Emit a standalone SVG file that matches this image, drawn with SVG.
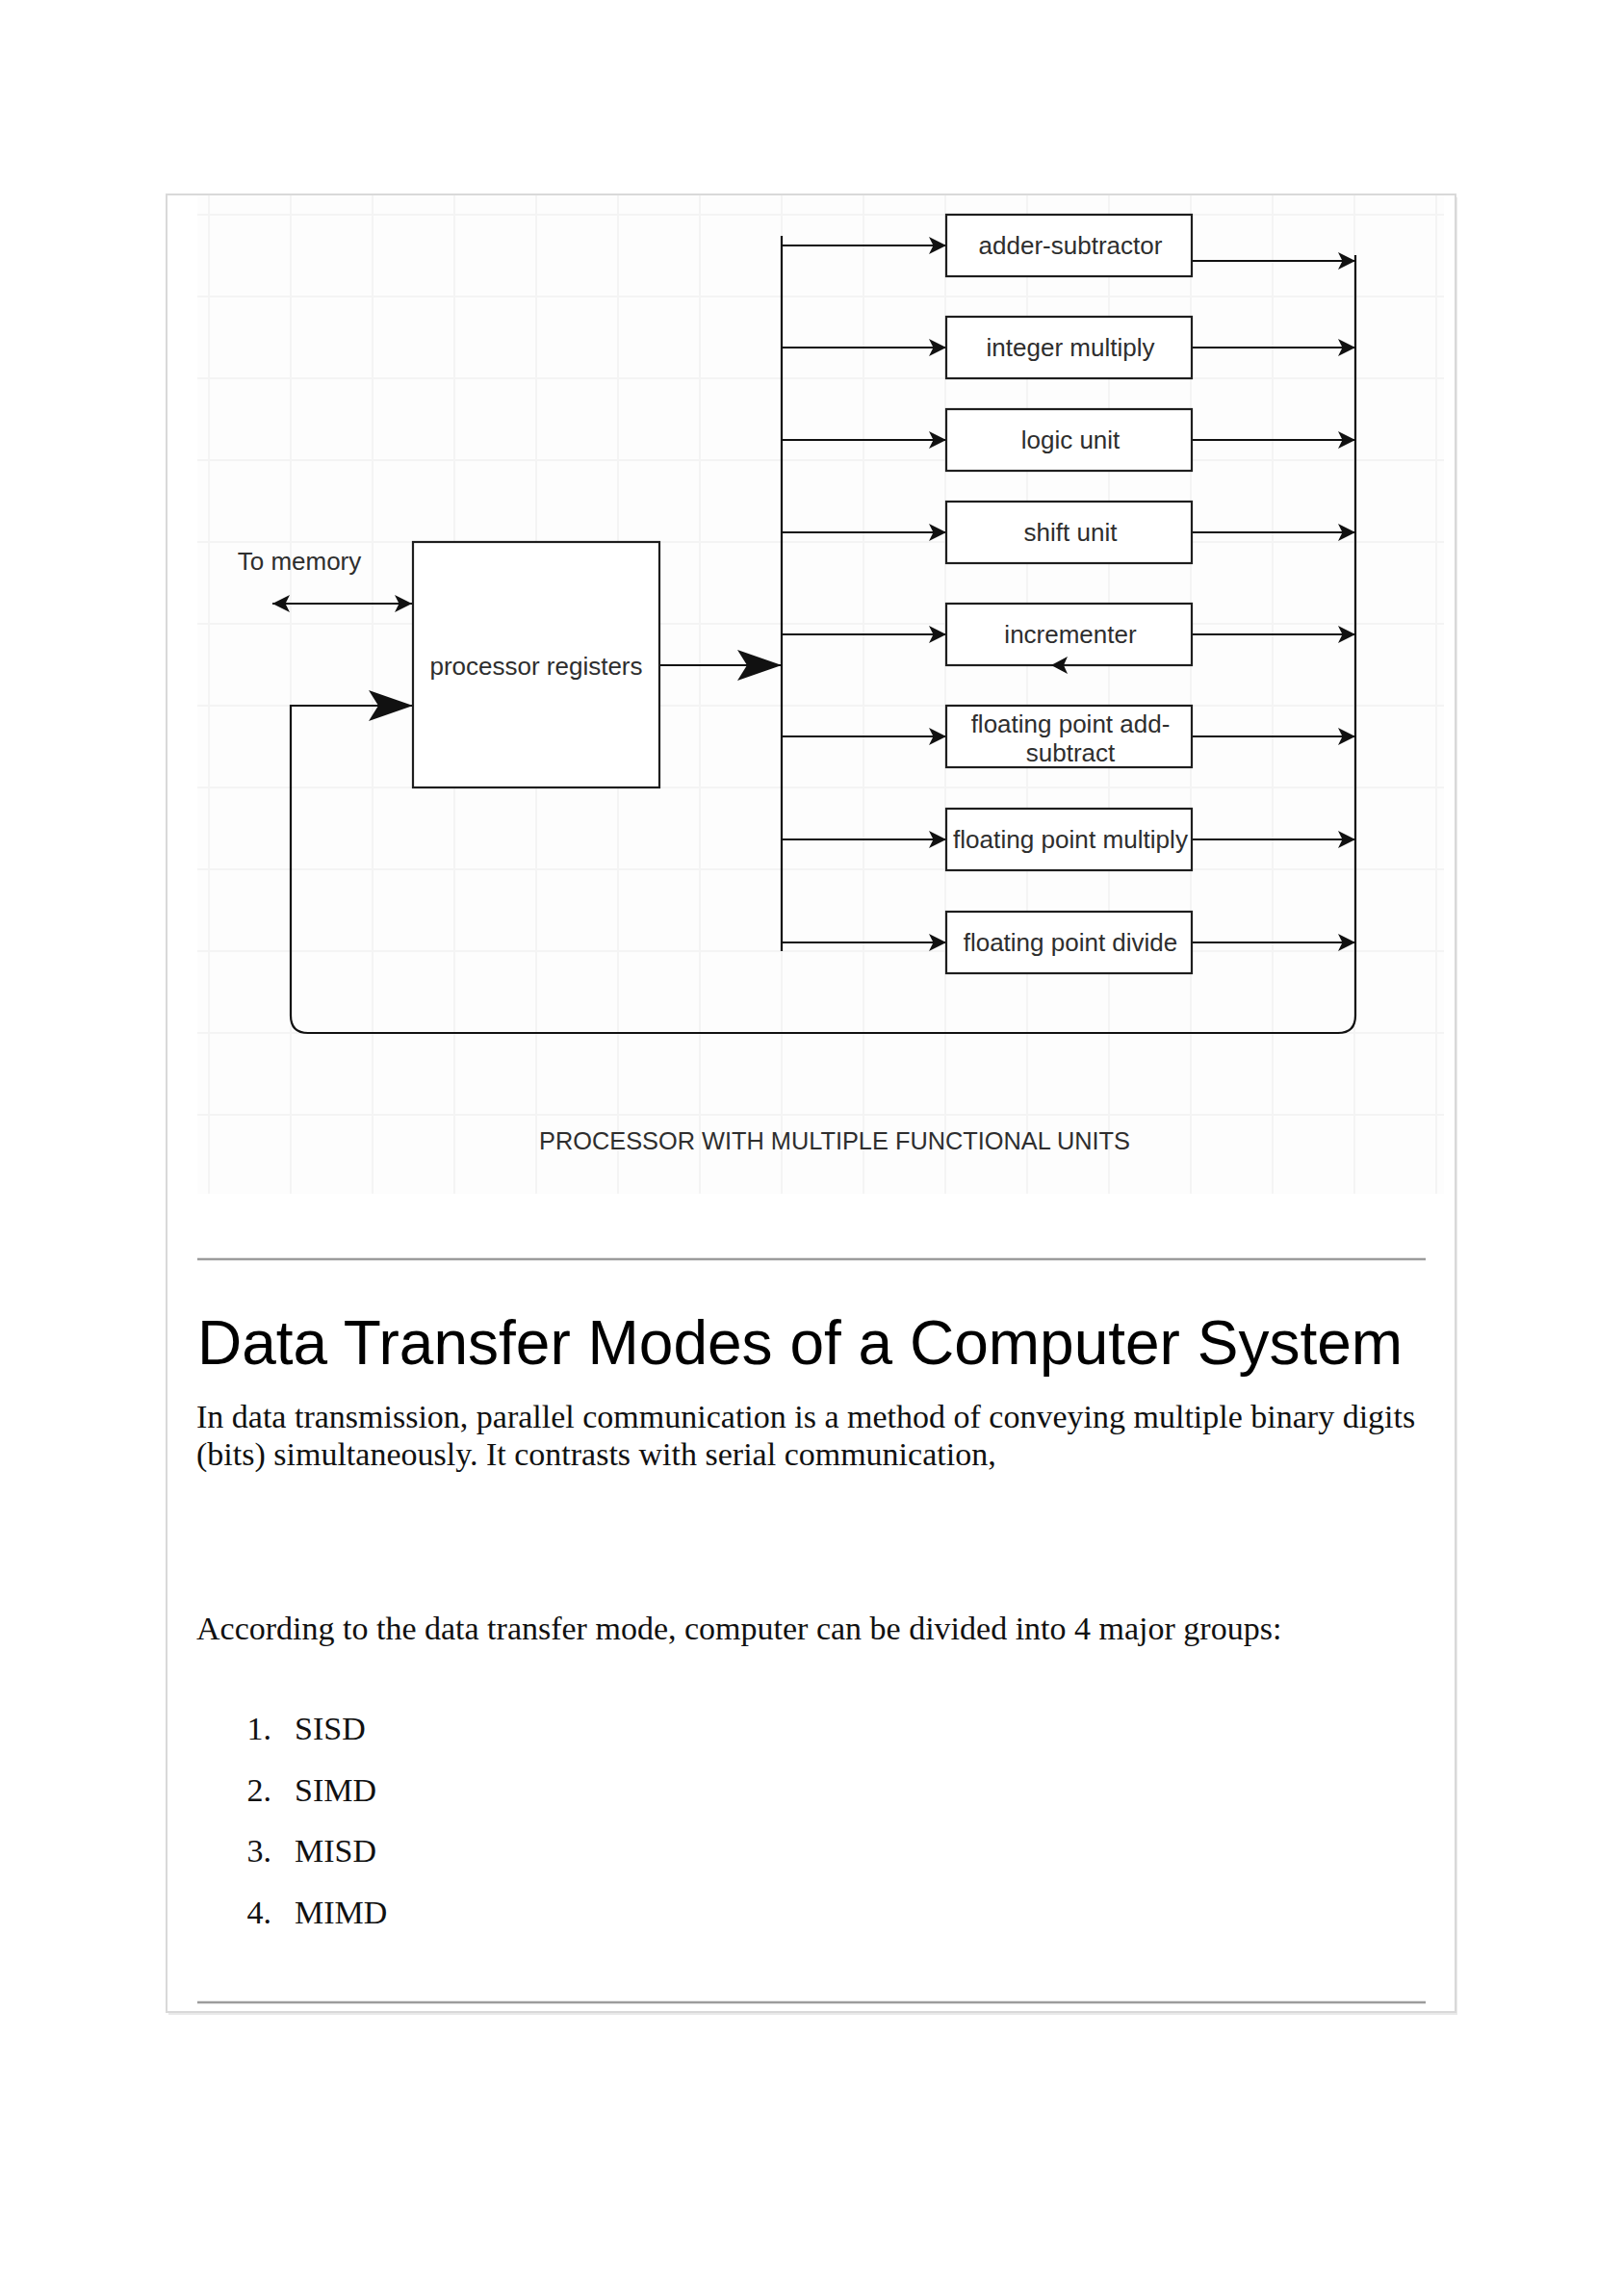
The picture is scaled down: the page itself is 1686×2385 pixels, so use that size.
<svg xmlns="http://www.w3.org/2000/svg" width="1686" height="2385" viewBox="0 0 1686 2385">
  <style>
    .box { fill: #ffffff; stroke: #1e1e1e; stroke-width: 2.2; }
    .lbl { font-family: "Liberation Sans", Arial, sans-serif; font-size: 26px; fill: #2e2e2e; text-anchor: middle; }
    .wire { fill: none; stroke: #111111; stroke-width: 2.2; }
    .grid line { stroke: #f4f4f4; stroke-width: 2; }
    .serif { font-family: "Liberation Serif", "Times New Roman", serif; font-size: 34px; fill: #111111; }
    .rule { stroke: #9c9c9c; stroke-width: 2.5; }
  </style>
  <defs>
    <marker id="arr" markerUnits="userSpaceOnUse" markerWidth="22" markerHeight="22" refX="20" refY="11" orient="auto-start-reverse">
      <path d="M2,2 L20,11 L2,20 L6.5,11 Z" fill="#111111"/>
    </marker>
    <marker id="big" markerUnits="userSpaceOnUse" markerWidth="50" markerHeight="36" refX="48" refY="18" orient="auto">
      <path d="M2,2 L48,18 L2,34 L12,18 Z" fill="#111111"/>
    </marker>
  </defs>

  <rect width="1686" height="2385" fill="#ffffff"/>

  <!-- card -->
  <g id="card">
    <rect x="175" y="205" width="1339" height="1888" fill="#e9e9e9"/>
    <rect x="173" y="202" width="1339" height="1888" fill="#ffffff" stroke="#d9d9d9" stroke-width="2"/>
  </g>

  <!-- diagram image area with faint grid -->
  <g id="canvas">
    <rect x="205" y="203" width="1295" height="1037" fill="#fdfdfd"/>
    <g class="grid">
      <line x1="217" y1="203" x2="217" y2="1240"/>
      <line x1="302" y1="203" x2="302" y2="1240"/>
      <line x1="387" y1="203" x2="387" y2="1240"/>
      <line x1="472" y1="203" x2="472" y2="1240"/>
      <line x1="557" y1="203" x2="557" y2="1240"/>
      <line x1="642" y1="203" x2="642" y2="1240"/>
      <line x1="727" y1="203" x2="727" y2="1240"/>
      <line x1="812" y1="203" x2="812" y2="1240"/>
      <line x1="897" y1="203" x2="897" y2="1240"/>
      <line x1="982" y1="203" x2="982" y2="1240"/>
      <line x1="1067" y1="203" x2="1067" y2="1240"/>
      <line x1="1152" y1="203" x2="1152" y2="1240"/>
      <line x1="1237" y1="203" x2="1237" y2="1240"/>
      <line x1="1322" y1="203" x2="1322" y2="1240"/>
      <line x1="1407" y1="203" x2="1407" y2="1240"/>
      <line x1="1492" y1="203" x2="1492" y2="1240"/>
      <line x1="205" y1="223" x2="1500" y2="223"/>
      <line x1="205" y1="308" x2="1500" y2="308"/>
      <line x1="205" y1="393" x2="1500" y2="393"/>
      <line x1="205" y1="478" x2="1500" y2="478"/>
      <line x1="205" y1="563" x2="1500" y2="563"/>
      <line x1="205" y1="648" x2="1500" y2="648"/>
      <line x1="205" y1="733" x2="1500" y2="733"/>
      <line x1="205" y1="818" x2="1500" y2="818"/>
      <line x1="205" y1="903" x2="1500" y2="903"/>
      <line x1="205" y1="988" x2="1500" y2="988"/>
      <line x1="205" y1="1073" x2="1500" y2="1073"/>
      <line x1="205" y1="1158" x2="1500" y2="1158"/>
    </g>
  </g>

  <!-- connectors -->
  <g id="connectors">
    <line class="wire" x1="283" y1="627" x2="428" y2="627" marker-start="url(#arr)" marker-end="url(#arr)"/>
    <line class="wire" x1="685" y1="691" x2="812" y2="691" marker-end="url(#big)"/>
    <line class="wire" x1="812" y1="245" x2="812" y2="988"/>
    <line class="wire" x1="812" y1="255" x2="983" y2="255" marker-end="url(#arr)"/>
    <line class="wire" x1="812" y1="361" x2="983" y2="361" marker-end="url(#arr)"/>
    <line class="wire" x1="812" y1="457" x2="983" y2="457" marker-end="url(#arr)"/>
    <line class="wire" x1="812" y1="553" x2="983" y2="553" marker-end="url(#arr)"/>
    <line class="wire" x1="812" y1="659" x2="983" y2="659" marker-end="url(#arr)"/>
    <line class="wire" x1="812" y1="765" x2="983" y2="765" marker-end="url(#arr)"/>
    <line class="wire" x1="812" y1="872" x2="983" y2="872" marker-end="url(#arr)"/>
    <line class="wire" x1="812" y1="979" x2="983" y2="979" marker-end="url(#arr)"/>
    <line class="wire" x1="1238" y1="271" x2="1408" y2="271" marker-end="url(#arr)"/>
    <line class="wire" x1="1238" y1="361" x2="1408" y2="361" marker-end="url(#arr)"/>
    <line class="wire" x1="1238" y1="457" x2="1408" y2="457" marker-end="url(#arr)"/>
    <line class="wire" x1="1238" y1="553" x2="1408" y2="553" marker-end="url(#arr)"/>
    <line class="wire" x1="1238" y1="659" x2="1408" y2="659" marker-end="url(#arr)"/>
    <line class="wire" x1="1238" y1="765" x2="1408" y2="765" marker-end="url(#arr)"/>
    <line class="wire" x1="1238" y1="872" x2="1408" y2="872" marker-end="url(#arr)"/>
    <line class="wire" x1="1238" y1="979" x2="1408" y2="979" marker-end="url(#arr)"/>
    <path class="wire" d="M1408,265 L1408,1055 Q1408,1073 1390,1073 L320,1073 Q302,1073 302,1055 L302,733 L429,733" marker-end="url(#big)"/>
  </g>

  <!-- nodes -->
  <g id="to-memory">
    <text class="lbl" x="311" y="592">To memory</text>
  </g>
  <g id="processor-registers">
    <rect class="box" x="429" y="563" width="256" height="255"/>
    <text class="lbl" x="557" y="701">processor registers</text>
  </g>
  <g id="adder-subtractor">
    <rect class="box" x="983" y="223" width="255" height="64"/>
    <text class="lbl" x="1112" y="264">adder-subtractor</text>
  </g>
  <g id="integer-multiply">
    <rect class="box" x="983" y="329" width="255" height="64"/>
    <text class="lbl" x="1112" y="370">integer multiply</text>
  </g>
  <g id="logic-unit">
    <rect class="box" x="983" y="425" width="255" height="64"/>
    <text class="lbl" x="1112" y="466">logic unit</text>
  </g>
  <g id="shift-unit">
    <rect class="box" x="983" y="521" width="255" height="64"/>
    <text class="lbl" x="1112" y="562">shift unit</text>
  </g>
  <g id="incrementer">
    <rect class="box" x="983" y="627" width="255" height="64"/>
    <text class="lbl" x="1112" y="668">incrementer</text>
    <path d="M1092,691 L1109,682 L1105,691 L1109,700 Z" fill="#111111"/>
  </g>
  <g id="fp-add-subtract">
    <rect class="box" x="983" y="733" width="255" height="64"/>
    <text class="lbl" x="1112" y="761">floating point add-</text>
    <text class="lbl" x="1112" y="791">subtract</text>
  </g>
  <g id="fp-multiply">
    <rect class="box" x="983" y="840" width="255" height="64"/>
    <text class="lbl" x="1112" y="881" textLength="244" lengthAdjust="spacingAndGlyphs">floating point multiply</text>
  </g>
  <g id="fp-divide">
    <rect class="box" x="983" y="947" width="255" height="64"/>
    <text class="lbl" x="1112" y="988">floating point divide</text>
  </g>
  <g id="caption">
    <text class="lbl" x="867" y="1194" font-size="25" textLength="614" lengthAdjust="spacingAndGlyphs">PROCESSOR WITH MULTIPLE FUNCTIONAL UNITS</text>
  </g>

  <!-- article text -->
  <g id="article">
    <line class="rule" x1="205" y1="1308" x2="1481" y2="1308"/>
    <text x="205" y="1417" font-family="'Liberation Sans', Arial, sans-serif" font-size="64" fill="#000000">Data Transfer Modes of a Computer System</text>
    <text class="serif" x="204" y="1483">In data transmission, parallel communication is a method of conveying multiple binary digits</text>
    <text class="serif" x="204" y="1522">(bits) simultaneously. It contrasts with serial communication,</text>
    <text class="serif" x="204" y="1703">According to the data transfer mode, computer can be divided into 4 major groups:</text>
    <text class="serif" x="282" y="1807" text-anchor="end">1.</text>
    <text class="serif" x="306" y="1807">SISD</text>
    <text class="serif" x="282" y="1871" text-anchor="end">2.</text>
    <text class="serif" x="306" y="1871">SIMD</text>
    <text class="serif" x="282" y="1934" text-anchor="end">3.</text>
    <text class="serif" x="306" y="1934">MISD</text>
    <text class="serif" x="282" y="1998" text-anchor="end">4.</text>
    <text class="serif" x="306" y="1998">MIMD</text>
    <line class="rule" x1="205" y1="2080" x2="1481" y2="2080"/>
  </g>
</svg>
